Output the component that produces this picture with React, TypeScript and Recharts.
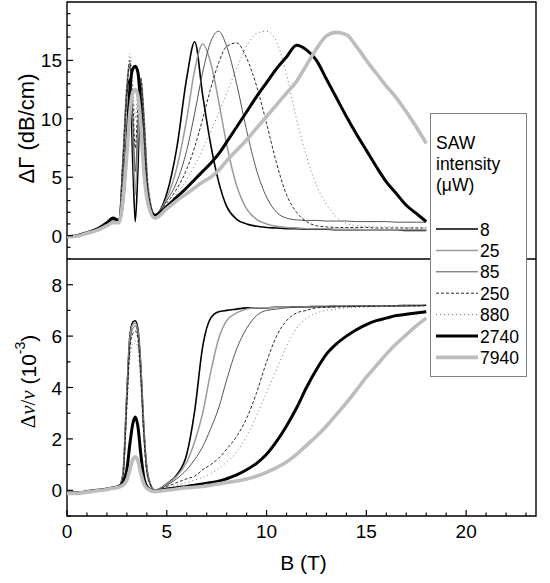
import { LineChart, Line, XAxis, YAxis, ReferenceArea } from 'recharts'

// magnetic field (T), shared by both panels
const B = [
  0, 0.5, 1, 1.5, 2, 2.3, 2.6,
  2.8, 3.0, 3.15, 3.3, 3.42, 3.55, 3.7, 3.85, 4.05, 4.4,
  5.0, 5.5, 6.0, 6.4, 6.8, 7.2, 7.6, 8.0,
  8.5, 9.0, 9.5, 10.0, 10.5, 11.0, 11.5, 12.0,
  12.5, 13.0, 13.5, 14.0, 14.5, 15.0, 15.5, 16.0,
  16.5, 17.0, 17.5, 18.0,
]

const INTENSITY = ['8', '25', '85', '250', '880', '2740', '7940']

// attenuation ΔΓ (dB/cm)
const dG8 = [
  -0.1, 0.0, 0.25, 0.55, 1.1, 1.5, 1.3,
  6.0, 12.2, 13.4, 6.0, 1.2, 5.5, 13.0, 10.0, 4.0, 1.8,
  3.6, 7.5, 13.5, 16.6, 12.0, 7.8, 4.6, 2.5,
  1.4, 1.0, 0.8, 0.7, 0.65, 0.6, 0.6, 0.55,
  0.55, 0.55, 0.5, 0.5, 0.5, 0.5, 0.5, 0.5,
  0.5, 0.45, 0.45, 0.45,
]
const dG25 = [
  -0.1, 0.0, 0.2, 0.5, 1.0, 1.3, 1.2,
  6.5, 13.0, 14.8, 9.0, 3.5, 8.0, 13.5, 10.5, 4.5, 1.8,
  3.2, 5.8, 10.0, 14.2, 16.4, 14.8, 11.5, 7.8,
  4.3, 2.3, 1.4, 1.0, 0.8, 0.7, 0.65, 0.6,
  0.6, 0.6, 0.55, 0.55, 0.55, 0.5, 0.5, 0.5,
  0.5, 0.5, 0.5, 0.5,
]
const dG85 = [
  -0.1, 0.0, 0.25, 0.5, 1.0, 1.4, 1.3,
  6.5, 12.5, 14.5, 10.0, 5.5, 9.5, 13.0, 10.0, 4.2, 1.8,
  3.0, 4.6, 7.3, 10.5, 14.0, 16.6, 17.5, 16.2,
  13.0, 9.0, 5.6, 3.3, 2.0, 1.5, 1.35, 1.3,
  1.3, 1.25, 1.25, 1.25, 1.2, 1.2, 1.2, 1.2,
  1.15, 1.15, 1.15, 1.15,
]
const dG250 = [
  -0.1, 0.0, 0.25, 0.5, 1.0, 1.4, 1.3,
  6.0, 12.5, 15.0, 11.5, 7.5, 11.0, 13.5, 10.0, 4.0, 1.8,
  2.8, 4.0, 5.7, 7.6, 10.0, 12.6, 14.8, 16.2,
  16.5, 15.2, 12.8, 9.6, 6.2, 3.5, 2.0, 1.2,
  0.85, 0.75, 0.7, 0.7, 0.7, 0.7, 0.65, 0.65,
  0.65, 0.65, 0.65, 0.65,
]
const dG880 = [
  -0.1, 0.0, 0.25, 0.5, 1.0, 1.3, 1.2,
  6.0, 12.5, 15.6, 13.0, 10.0, 12.5, 13.0, 9.5, 4.0, 1.8,
  2.6, 3.6, 4.8, 6.0, 7.4, 8.9, 10.5, 12.2,
  14.3, 16.2, 17.3, 17.5, 16.6, 13.8, 10.0, 6.8,
  4.3, 2.7, 1.6, 1.05, 0.85, 0.8, 0.75, 0.75,
  0.75, 0.7, 0.7, 0.7,
]
const dG2740 = [
  -0.1, 0.0, 0.25, 0.55, 1.1, 1.5, 1.3,
  3.0, 8.0, 12.5, 14.3, 14.5, 14.0, 11.0, 6.5, 3.0, 1.7,
  2.5, 3.3, 4.1, 4.8, 5.5, 6.2, 7.0, 8.0,
  9.3, 10.6, 11.9, 13.1, 14.3, 15.3, 16.3, 15.9,
  15.0, 13.4, 11.8, 10.2, 8.7, 7.3, 5.9, 4.6,
  3.6, 2.6, 1.9, 1.2,
]
const dG7940 = [
  -0.1, -0.05, 0.2, 0.45, 0.85, 1.1, 1.1,
  3.0, 7.0, 10.5, 12.3, 12.5, 12.0, 9.5, 5.5, 2.8, 1.5,
  2.3, 3.0, 3.6, 4.1, 4.6, 5.0, 5.6, 6.4,
  7.3, 8.2, 9.2, 10.2, 11.2, 12.2, 13.2, 14.6,
  16.0, 17.1, 17.4, 17.2, 16.2, 15.0, 13.9, 12.8,
  11.8, 10.6, 9.3, 7.9,
]

// sound velocity shift Δv/v (10^-3)
const dV8 = [
  -0.1, -0.1, -0.05, 0.0, 0.05, 0.1, 0.15,
  0.6, 3.8, 6.0, 6.55, 6.6, 6.3, 4.8, 2.4, 0.6, 0.0,
  0.25, 0.6, 1.4, 3.1, 5.6, 6.7, 6.95, 7.0,
  7.05, 7.1, 7.1, 7.1, 7.12, 7.12, 7.14, 7.14,
  7.15, 7.15, 7.16, 7.16, 7.17, 7.17, 7.18, 7.18,
  7.18, 7.19, 7.19, 7.2,
]
const dV25 = [
  -0.1, -0.1, -0.05, 0.0, 0.05, 0.1, 0.15,
  0.6, 3.7, 5.9, 6.45, 6.5, 6.2, 4.7, 2.3, 0.6, 0.0,
  0.25, 0.55, 1.1, 1.9, 3.0, 4.6, 5.9, 6.6,
  6.9, 7.05, 7.1, 7.1, 7.12, 7.12, 7.13, 7.14,
  7.15, 7.15, 7.16, 7.16, 7.17, 7.17, 7.18, 7.18,
  7.18, 7.19, 7.19, 7.2,
]
const dV85 = [
  -0.1, -0.1, -0.05, 0.0, 0.05, 0.1, 0.15,
  0.5, 3.5, 5.7, 6.3, 6.4, 6.1, 4.5, 2.2, 0.5, 0.0,
  0.2, 0.45, 0.8, 1.2, 1.7, 2.4, 3.2, 4.3,
  5.5, 6.3, 6.8, 7.0, 7.05, 7.1, 7.12, 7.13,
  7.14, 7.15, 7.15, 7.16, 7.16, 7.17, 7.17, 7.18,
  7.18, 7.18, 7.19, 7.19,
]
const dV250 = [
  -0.1, -0.1, -0.05, 0.0, 0.05, 0.1, 0.15,
  0.5, 3.3, 5.5, 6.1, 6.2, 5.9, 4.3, 2.1, 0.5, 0.0,
  0.15, 0.3, 0.45, 0.55, 0.8, 1.0, 1.25, 1.6,
  2.1, 2.8, 3.8, 5.0, 6.0, 6.6, 6.9, 7.0,
  7.1, 7.12, 7.13, 7.14, 7.15, 7.16, 7.16, 7.17,
  7.17, 7.18, 7.18, 7.19,
]
const dV880 = [
  -0.1, -0.1, -0.05, 0.0, 0.05, 0.1, 0.15,
  0.4, 3.0, 5.1, 5.7, 5.8, 5.5, 4.0, 1.9, 0.4, 0.0,
  0.1, 0.2, 0.3, 0.4, 0.5, 0.65, 0.85, 1.1,
  1.5, 2.1, 2.9, 3.8, 4.7, 5.6, 6.3, 6.7,
  6.9, 7.0, 7.05, 7.1, 7.12, 7.13, 7.14, 7.15,
  7.15, 7.16, 7.16, 7.17,
]
const dV2740 = [
  -0.1, -0.1, -0.05, 0.0, 0.05, 0.1, 0.15,
  0.3, 0.8, 1.8, 2.6, 2.85, 2.5, 1.4, 0.5, 0.1, -0.05,
  0.05, 0.1, 0.15, 0.2, 0.25, 0.3, 0.35, 0.45,
  0.6, 0.8, 1.05, 1.4, 1.9, 2.5, 3.2, 4.0,
  4.7, 5.3, 5.7, 6.0, 6.25, 6.45, 6.6, 6.7,
  6.8, 6.85, 6.9, 6.95,
]
const dV7940 = [
  -0.12, -0.12, -0.07, -0.02, 0.03, 0.08, 0.12,
  0.2, 0.4, 0.8, 1.2, 1.3, 1.15, 0.65, 0.25, 0.05, -0.05,
  0.0, 0.05, 0.1, 0.12, 0.15, 0.2, 0.25, 0.3,
  0.36, 0.44, 0.55, 0.7, 0.88, 1.1, 1.4, 1.75,
  2.1, 2.5, 2.95, 3.4, 3.9, 4.4, 4.85, 5.3,
  5.7, 6.05, 6.4, 6.7,
]

const X_TICKS = [0, 1, 2, 3, 4, 5, 6, 7, 8, 9, 10, 11, 12, 13, 14, 15, 16, 17, 18, 19, 20, 21, 22, 23]
const X_LABELS = [0, 5, 10, 15, 20]
const TOP_TICKS = [-2, -1, 0, 1, 2, 3, 4, 5, 6, 7, 8, 9, 10, 11, 12, 13, 14, 15, 16, 17, 18, 19]
const TOP_LABELS = [0, 5, 10, 15]
const BOT_TICKS = [-1, 0, 1, 2, 3, 4, 5, 6, 7, 8]
const BOT_LABELS = [0, 2, 4, 6, 8]

const STYLES = [
  { stroke: '#000000', width: 1.6, dash: undefined },
  { stroke: '#9a9a9a', width: 1.5, dash: undefined },
  { stroke: '#555555', width: 1.0, dash: undefined },
  { stroke: '#111111', width: 0.9, dash: '3 2' },
  { stroke: '#777777', width: 1.0, dash: '1 3' },
  { stroke: '#000000', width: 3.0, dash: undefined },
  { stroke: '#bdbdbd', width: 3.6, dash: undefined },
]

const FONT = '"Liberation Sans", Arial, sans-serif'
const SERIF = '"Liberation Serif", serif'

const TOP = [dG8, dG25, dG85, dG250, dG880, dG2740, dG7940]
const BOT = [dV8, dV25, dV85, dV250, dV880, dV2740, dV7940]

const toRows = (sets: number[][]) =>
  B.map((b, i) => {
    const row: Record<string, number> = { b }
    sets.forEach((s, k) => (row[`s${k}`] = s[i]))
    return row
  })

const topRows = toRows(TOP)
const botRows = toRows(BOT)

function XTick(props: any) {
  const { x, y, payload, showLabel } = props
  const major = X_LABELS.includes(payload.value)
  return (
    <g>
      <line x1={x} x2={x} y1={y} y2={y - (major ? 6 : 3.5)} stroke="#000" strokeWidth={1.2} />
      {showLabel && major && (
        <text x={x} y={y + 22} textAnchor="middle" fontSize={19} fontFamily={FONT} fill="#000">
          {payload.value}
        </text>
      )}
    </g>
  )
}

function YTick(props: any) {
  const { x, y, payload, labels } = props
  const major = labels.includes(payload.value)
  return (
    <g>
      <line x1={x} x2={x + (major ? 6 : 3.5)} y1={y} y2={y} stroke="#000" strokeWidth={1.2} />
      {major && (
        <text x={x - 5} y={y + 7} textAnchor="end" fontSize={19} fontFamily={FONT} fill="#000">
          {payload.value}
        </text>
      )}
    </g>
  )
}

function Lines() {
  return STYLES.map((st, k) => (
    <Line
      key={k}
      dataKey={`s${k}`}
      type="monotone"
      stroke={st.stroke}
      strokeWidth={st.width}
      strokeDasharray={st.dash}
      dot={false}
      activeDot={false}
      isAnimationActive={false}
    />
  ))
}

function Legend() {
  return (
    <div
      style={{
        position: 'absolute',
        left: 430,
        top: 113,
        width: 95,
        height: 262,
        border: '1px solid #808080',
        background: '#fff',
      }}
    >
      <svg width={95} height={262}>
        <text x={5} y={35} fontSize={17.5} fontFamily={FONT}>SAW</text>
        <text x={5} y={56} fontSize={17.5} fontFamily={FONT}>intensity</text>
        <text x={5} y={77} fontSize={17.5} fontFamily={FONT}>(μW)</text>
        {INTENSITY.map((name, k) => {
          const cy = 115 + k * 21.4
          const st = STYLES[k]
          return (
            <g key={name}>
              <line x1={5} x2={47} y1={cy} y2={cy} stroke={st.stroke} strokeWidth={st.width} strokeDasharray={st.dash} />
              <text x={49} y={cy + 6.5} fontSize={17.5} fontFamily={FONT}>{name}</text>
            </g>
          )
        })}
      </svg>
    </div>
  )
}

export default function App() {
  return (
    <div style={{ position: 'absolute', left: 0, top: 0, width: 550, height: 583, background: '#fff' }}>
      <div style={{ position: 'absolute', left: 0, top: 0 }}>
        <LineChart width={550} height={259} data={topRows} margin={{ top: 2, right: 14, bottom: 0, left: 0 }} style={{ overflow: 'visible' }}>
          <XAxis
            dataKey="b"
            type="number"
            domain={[0, 23.5]}
            ticks={X_TICKS}
            interval={0}
            height={0}
            tickSize={0}
            tickMargin={0}
            tickLine={false}
            axisLine={false}
            tick={(p: any) => <XTick {...p} showLabel={false} />}
          />
          <YAxis
            type="number"
            domain={[-2, 20]}
            ticks={TOP_TICKS}
            interval={0}
            width={67}
            tickSize={0}
            tickMargin={0}
            tickLine={false}
            axisLine={false}
            tick={(p: any) => <YTick {...p} labels={TOP_LABELS} />}
            label={{
              content: (lp: any) => {
                const vb = lp.viewBox
                const cx = 26
                const cy = vb.y + vb.height / 2 - 2
                return (
                  <text
                    x={cx}
                    y={cy}
                    transform={`rotate(-90, ${cx}, ${cy})`}
                    textAnchor="middle"
                    dominantBaseline="central"
                    fontSize={22}
                    fontFamily={FONT}
                  >
                    ΔΓ (dB/cm)
                  </text>
                )
              },
            }}
          />
          {Lines()}
          <ReferenceArea x1={0} x2={23.5} y1={-2} y2={20} fill="none" stroke="#000" strokeWidth={1.4} ifOverflow="visible" />
        </LineChart>
      </div>
      <div style={{ position: 'absolute', left: 0, top: 259 }}>
        <LineChart width={550} height={324} data={botRows} margin={{ top: 0, right: 14, bottom: 0, left: 0 }} style={{ overflow: 'visible' }}>
          <XAxis
            dataKey="b"
            type="number"
            domain={[0, 23.5]}
            ticks={X_TICKS}
            interval={0}
            height={67}
            tickSize={0}
            tickMargin={0}
            tickLine={false}
            axisLine={false}
            tick={(p: any) => <XTick {...p} showLabel />}
            label={{
              content: (lp: any) => {
                const vb = lp.viewBox
                return (
                  <text x={vb.x + vb.width / 2 + 2} y={vb.y + 54} textAnchor="middle" fontSize={21} fontFamily={FONT}>
                    B (T)
                  </text>
                )
              },
            }}
          />
          <YAxis
            type="number"
            domain={[-1, 9]}
            ticks={BOT_TICKS}
            interval={0}
            width={67}
            tickSize={0}
            tickMargin={0}
            tickLine={false}
            axisLine={false}
            tick={(p: any) => <YTick {...p} labels={BOT_LABELS} />}
            label={{
              content: (lp: any) => {
                const vb = lp.viewBox
                const cx = 28
                const cy = vb.y + vb.height / 2 - 6
                return (
                  <text
                    x={cx}
                    y={cy}
                    transform={`rotate(-90, ${cx}, ${cy})`}
                    textAnchor="middle"
                    dominantBaseline="central"
                    fontSize={21}
                    fontFamily={FONT}
                  >
                    <tspan fontFamily={SERIF}>Δ</tspan>
                    <tspan fontFamily={SERIF} fontStyle="italic">v</tspan>
                    <tspan fontFamily={SERIF}>/</tspan>
                    <tspan fontFamily={SERIF} fontStyle="italic">v</tspan>
                    <tspan> (10</tspan>
                    <tspan fontSize={14} dy={-8}>-3</tspan>
                    <tspan dy={8}>)</tspan>
                  </text>
                )
              },
            }}
          />
          {Lines()}
          <ReferenceArea x1={0} x2={23.5} y1={-1} y2={9} fill="none" stroke="#000" strokeWidth={1.4} ifOverflow="visible" />
        </LineChart>
      </div>
      <Legend />
    </div>
  )
}
